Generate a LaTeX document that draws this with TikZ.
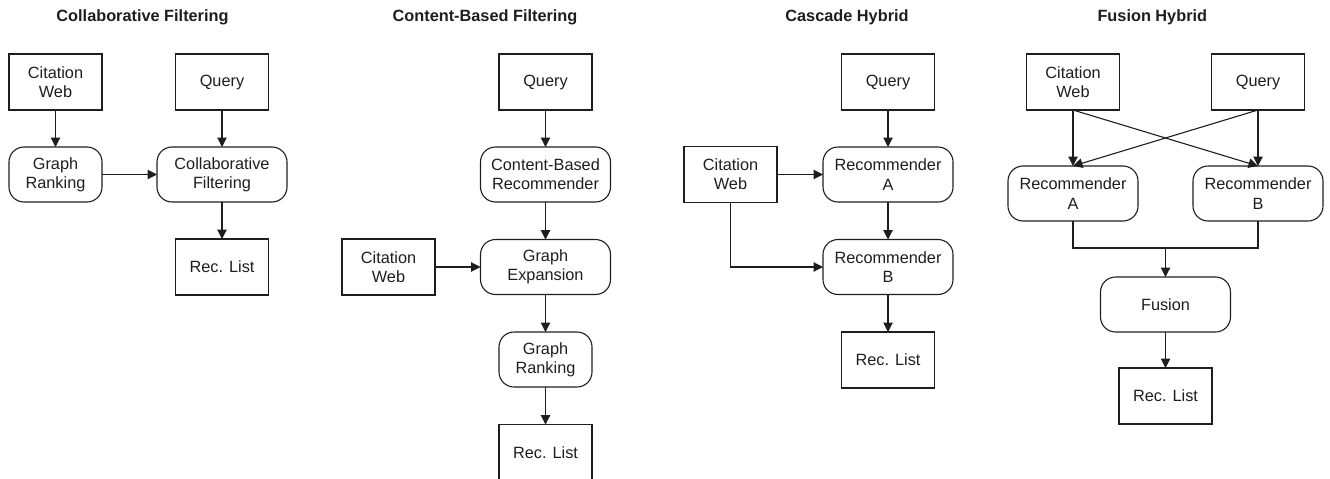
\documentclass[tikz,border=0pt]{standalone}
\usepackage{fontspec}
\setmainfont{Liberation Sans}
\usetikzlibrary{arrows.meta}

\tikzset{
  box/.style={draw=ink, line width=1.1pt, inner sep=0pt, outer sep=0pt,
    minimum width=93pt, minimum height=56pt, align=center, text=ink,
    font=\fontsize{16.3}{19.3}\selectfont},
  roundbox/.style={box, rounded corners=15pt, minimum height=55pt},
  widebox/.style={roundbox, minimum width=130pt},
  title/.style={anchor=base, inner sep=0pt, text=ink, font=\fontsize{16.3}{19.3}\selectfont\bfseries},
  arr/.style={draw=ink, line width=1.1pt, -{Triangle[length=9.5pt,width=9.5pt]}},
  link/.style={draw=ink, line width=1.1pt},
}
\definecolor{ink}{HTML}{1E1E1E}

\begin{document}
\begin{tikzpicture}[x=1pt, y=-1pt]
  \clip (0,0) rectangle (1330,479);

  % ---- Collaborative filtering ----
  \node[title] (t1) at (142.5,21.5) {Collaborative Filtering};
  \node[box] (cw1) at (55.5,82) {Citation\\Web};
  \node[box] (q1) at (222,82) {Query};
  \node[roundbox] (gr1) at (55.5,174.5) {Graph\\Ranking};
  \node[widebox] (cf1) at (222,174.5) {Collaborative\\Filtering};
  \node[box] (rl1) at (222,267) {Rec. List};
  \draw[arr] (cw1) -- (gr1);
  \draw[arr] (q1) -- (cf1);
  \draw[arr] (gr1) -- (cf1);
  \draw[arr] (cf1) -- (rl1);

  % ---- Content-based filtering ----
  \node[title] (t2) at (485,21.5) {Content-Based Filtering};
  \node[box] (q2) at (545.5,82) {Query};
  \node[widebox] (cb2) at (545.5,174.5) {Content-Based\\Recommender};
  \node[widebox] (ge2) at (545.5,267) {Graph\\Expansion};
  \node[box] (cw2) at (388.5,267) {Citation\\Web};
  \node[roundbox] (gr2) at (545.5,359.5) {Graph\\Ranking};
  \node[box] (rl2) at (545.5,452.5) {Rec. List};
  \draw[arr] (q2) -- (cb2);
  \draw[arr] (cb2) -- (ge2);
  \draw[arr] (cw2) -- (ge2);
  \draw[arr] (ge2) -- (gr2);
  \draw[arr] (gr2) -- (rl2);

  % ---- Cascade hybrid ----
  \node[title] (t3) at (847,21.5) {Cascade Hybrid};
  \node[box] (q3) at (888,82) {Query};
  \node[widebox] (ra3) at (888,174.5) {Recommender\\A};
  \node[box] (cw3) at (730.5,174.5) {Citation\\Web};
  \node[widebox] (rb3) at (888,267) {Recommender\\B};
  \node[box] (rl3) at (888,360) {Rec. List};
  \draw[arr] (q3) -- (ra3);
  \draw[arr] (cw3) -- (ra3);
  \draw[arr] (ra3) -- (rb3);
  \draw[arr] (cw3.south) |- (rb3.west);
  \draw[arr] (rb3) -- (rl3);

  % ---- Fusion hybrid ----
  \node[title] (t4) at (1152.3,21.5) {Fusion Hybrid};
  \node[box] (cw4) at (1073,82) {Citation\\Web};
  \node[box] (q4) at (1258,82) {Query};
  \node[widebox] (ra4) at (1073,193.5) {Recommender\\A};
  \node[widebox] (rb4) at (1258,193.5) {Recommender\\B};
  \node[widebox] (fu4) at (1165.5,304.5) {Fusion};
  \node[box] (rl4) at (1165.5,396) {Rec. List};
  \coordinate (j4) at (1165.5,248);
  \draw[arr] (cw4.south) -- (ra4.north);
  \draw[arr] (q4.south) -- (rb4.north);
  \draw[arr] (cw4.south) -- (rb4.north);
  \draw[arr] (q4.south) -- (ra4.north);
  \draw[link] (ra4.south) |- (j4) -| (rb4.south);
  \draw[arr] (j4) -- (fu4);
  \draw[arr] (fu4) -- (rl4);
\end{tikzpicture}
\end{document}
